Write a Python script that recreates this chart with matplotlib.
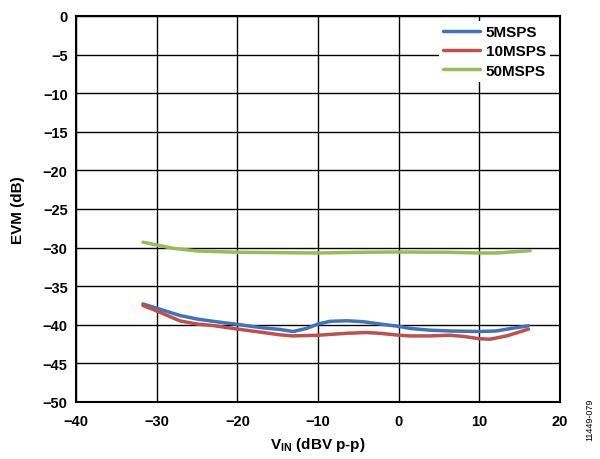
import matplotlib
matplotlib.use("Agg")
import matplotlib.pyplot as plt
import numpy as np

plt.rcParams['font.family'] = ['Liberation Sans', 'DejaVu Sans']
plt.rcParams['font.weight'] = 'bold'
plt.rcParams['mathtext.fontset'] = 'custom'
plt.rcParams['mathtext.rm'] = 'Liberation Sans:bold'
plt.rcParams['mathtext.it'] = 'Liberation Sans:bold'
plt.rcParams['mathtext.bf'] = 'Liberation Sans:bold'

# Data
x_5 = [-31.7, -30, -27.1, -25.0, -23.0, -20, -16.8, -14.7, -13.1, -11.4, -10, -8.5, -6.45,
       -4.4, -2.3, 0, 1.4, 3.9, 6.35, 10, 12.1, 14.2, 16.1]
y_5 = [-37.3, -37.85, -38.8, -39.25, -39.55, -39.95, -40.4, -40.6, -40.87, -40.47, -39.9,
       -39.55, -39.48, -39.6, -39.9, -40.2, -40.47, -40.7, -40.8, -40.87, -40.8, -40.43, -40.13]

x_10 = [-31.7, -30, -27.1, -25.0, -23.0, -20, -16.8, -14.7, -13.1, -10, -6.45, -4.0, -2.3,
        0, 1.4, 3.9, 6.35, 8.0, 10, 11.3, 13.4, 16.1]
y_10 = [-37.5, -38.2, -39.5, -39.9, -40.1, -40.55, -41.0, -41.3, -41.44, -41.35, -41.1,
        -41.0, -41.1, -41.35, -41.44, -41.44, -41.35, -41.5, -41.8, -41.87, -41.44, -40.56]

x_50 = [-31.7, -30, -27.9, -25.0, -20, -10, -4.4, 0, 5.9, 10, 12.1, 16.3]
y_50 = [-29.3, -29.66, -30.1, -30.44, -30.6, -30.7, -30.6, -30.57, -30.6, -30.7, -30.7, -30.4]

labels = ['5MSPS', '10MSPS', '50MSPS']
colors = ['#3F74BA', '#C0504D', '#9BBB59']

x_ticks = [-40, -30, -20, -10, 0, 10, 20]
y_ticks = [0, -5, -10, -15, -20, -25, -30, -35, -40, -45, -50]

fig = plt.figure(figsize=(6.0, 4.6), dpi=100)
ax = fig.add_axes([76/600, 57/460, 484/600, 386/460])

for xs, ys, lab, c in zip([x_5, x_10, x_50], [y_5, y_10, y_50], labels, colors):
    ax.plot(xs, ys, color=c, lw=2.5, label=lab, solid_capstyle='round',
            solid_joinstyle='round')

ax.set_xlim(-40, 20)
ax.set_ylim(-50, 0)
ax.set_xticks(x_ticks)
ax.set_yticks(y_ticks)
ax.set_xticklabels(['\u221240', '\u221230', '\u221220', '\u221210', '0', '10', '20'])
ax.set_yticklabels(['0'] + ['\u2212%d' % -v for v in y_ticks[1:]])
ax.tick_params(length=0, labelsize=10.5)
ax.tick_params(axis='x', pad=9)
ax.tick_params(axis='y', pad=6)
ax.grid(True, color='black', lw=1.0)
ax.set_axisbelow(True)
for s in ax.spines.values():
    s.set_linewidth(1.5)
    s.set_color('black')

ax.set_xlabel(r'V$_{\mathrm{IN}}$ (dBV p-p)', fontsize=11, fontweight='bold', labelpad=5)
ax.set_ylabel('EVM (dB)', fontsize=11, fontweight='bold', labelpad=13)

leg = ax.legend(loc='upper left', bbox_to_anchor=(0.749, 0.988), frameon=True,
                fancybox=False, fontsize=11, handlelength=2.4, handletextpad=0.4,
                labelspacing=0.34, borderaxespad=0.0, borderpad=0.3)
leg.get_frame().set_edgecolor('none')
leg.get_frame().set_facecolor('white')
leg.get_frame().set_alpha(1.0)
for t in leg.get_texts():
    t.set_fontweight('bold')

fig.text(590/600, 1 - 420/460, '11449-079', rotation=90, fontsize=6.5,
         fontweight='normal', ha='center', va='center')

fig.savefig('out.png', dpi=100)
